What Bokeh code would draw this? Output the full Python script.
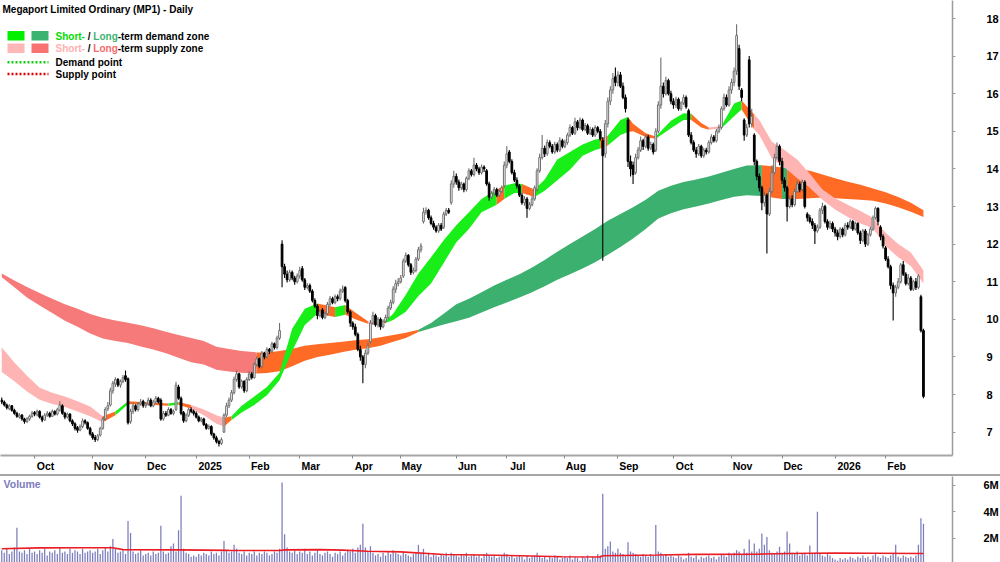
from bokeh.plotting import figure
from bokeh.models import (Range1d, FixedTicker, CustomJSTickFormatter, Label,
                          BoxAnnotation, PolyAnnotation, ColumnDataSource, Div)
from bokeh.layouts import column
from bokeh.embed import file_html
from bokeh.resources import INLINE

# ---------------- data (trading-day index 0 = mid Sep 2024) ----------------
month_names = ["Oct", "Nov", "Dec", "2025", "Feb", "Mar", "Apr", "May", "Jun",
               "Jul", "Aug", "Sep", "Oct", "Nov", "Dec", "2026", "Feb"]
month_start = [13, 36, 57, 77, 98, 118, 139, 158, 180, 200, 223, 244, 266, 289, 309, 330, 350]
price_ticks = [7, 8, 9, 10, 11, 12, 13, 14, 15, 16, 17, 18]
volume_ticks = [2, 4, 6]

opens = [
    7.85, 7.80, 7.72, 7.62, 7.70, 7.58, 7.50, 7.40, 7.45, 7.35, 7.28, 7.35, 7.42,
    7.52, 7.46, 7.55, 7.40, 7.32, 7.45, 7.50, 7.42, 7.55, 7.48, 7.58, 7.70, 7.50, 7.40, 7.48, 7.30, 7.22, 7.12, 7.05, 7.15, 7.30, 7.25, 7.10,
    6.95, 6.86, 6.80, 6.92, 7.10, 7.35, 7.62, 7.72, 8.10, 8.28, 8.40, 8.25, 8.35, 8.50, 8.42, 7.28, 7.55, 7.70, 7.60, 7.75, 7.82,
    7.70, 7.75, 7.85, 7.70, 7.80, 7.90, 7.85, 7.35, 7.50, 7.45, 7.60, 7.50, 7.60, 8.20, 7.90, 7.52, 7.30, 7.45, 7.60, 7.55,
    7.50, 7.40, 7.30, 7.35, 7.20, 7.10, 7.15, 6.95, 6.85, 6.75, 6.70, 7.00, 7.45, 7.70, 7.85, 8.05, 8.40, 8.55, 8.20, 8.35, 8.10,
    8.40, 8.55, 8.45, 8.80, 8.95, 8.75, 9.10, 9.00, 9.20, 9.15, 9.35, 9.25, 9.50, 12.00, 11.40, 11.20, 11.05, 11.25, 11.10, 11.00,
    11.15, 11.35, 11.05, 10.85, 10.90, 10.75, 10.50, 10.35, 10.10, 10.25, 10.05, 10.15, 10.40, 10.55, 10.45, 10.60, 10.55, 10.75, 10.85, 10.50, 10.20,
    9.90, 9.80, 9.60, 9.20, 9.00, 8.80, 9.10, 9.40, 9.90, 10.10, 9.85, 10.00, 9.80, 9.95, 10.05, 10.30, 10.45, 10.80, 10.95,
    11.00, 11.15, 11.55, 11.70, 11.45, 11.25, 11.30, 11.60, 11.85, 12.60, 12.85, 12.90, 12.70, 12.55, 12.45, 12.35, 12.50, 12.45, 12.80, 12.90, 13.10, 13.60,
    13.80, 13.65, 13.50, 13.60, 13.45, 13.75, 13.95, 13.85, 14.10, 14.00, 13.90, 14.05, 13.95, 13.60, 13.25, 13.35, 13.45, 13.30, 13.40, 13.55,
    14.10, 14.45, 14.20, 13.90, 13.70, 13.55, 13.30, 13.10, 13.20, 12.95, 13.05, 13.20, 13.45, 13.95, 14.30, 14.55, 14.40, 14.70, 14.60, 14.45, 14.65, 14.50, 14.75,
    14.60, 14.70, 14.90, 15.10, 14.95, 15.25, 15.10, 15.30, 15.05, 15.15, 14.95, 15.05, 14.90, 15.10, 15.00, 14.75, 14.40, 15.20, 15.80, 16.10, 16.45,
    16.30, 16.50, 16.20, 15.90, 15.30, 14.20, 14.10, 13.90, 14.30, 14.50, 14.75, 14.60, 14.85, 14.55, 14.65, 14.50, 15.00, 15.70, 16.20, 16.00, 16.35, 16.00,
    15.80, 15.70, 15.85, 15.60, 15.75, 15.90, 15.55, 14.90, 14.70, 14.50, 14.40, 14.60, 14.35, 14.50, 14.45, 14.70, 14.85, 14.75, 15.00, 15.10, 15.60, 15.90, 15.70,
    16.10, 16.30, 16.60, 17.20, 16.10, 15.30, 14.90, 16.90, 15.20, 14.90, 14.20, 13.80, 13.50, 13.10, 13.30, 12.80, 13.40, 13.90, 14.30, 14.60,
    14.20, 13.70, 13.50, 13.00, 13.20, 13.05, 13.40, 13.60, 13.45, 13.65, 12.80, 12.70, 12.60, 12.50, 12.35, 12.45, 12.90, 13.00, 12.60, 12.45, 12.55,
    12.40, 12.30, 12.20, 12.40, 12.25, 12.50, 12.45, 12.60, 12.40, 12.55, 12.30, 12.10, 12.35, 12.00, 12.25, 12.40, 12.70, 12.95, 12.45, 12.20,
    11.90, 11.60, 11.40, 10.90, 10.70, 10.85, 11.00, 11.45, 11.20, 10.95, 11.10, 10.80, 11.00, 10.85, 10.60, 9.70,
]
highs = [
    7.92, 7.84, 7.76, 7.74, 7.72, 7.62, 7.54, 7.50, 7.48, 7.38, 7.40, 7.46, 7.56,
    7.56, 7.60, 7.58, 7.44, 7.50, 7.56, 7.54, 7.60, 7.58, 7.65, 7.82, 7.74, 7.54, 7.52, 7.50, 7.34, 7.26, 7.16, 7.20, 7.36, 7.34, 7.28, 7.14,
    7.00, 6.92, 6.95, 7.14, 7.40, 7.66, 7.80, 8.18, 8.36, 8.46, 8.44, 8.40, 8.52, 8.64, 8.45, 7.62, 7.78, 7.74, 7.80, 7.88, 7.86,
    7.80, 7.92, 7.90, 7.86, 7.96, 7.94, 7.90, 7.56, 7.56, 7.66, 7.64, 7.60, 8.34, 8.26, 7.95, 7.56, 7.50, 7.65, 7.66, 7.60,
    7.55, 7.44, 7.40, 7.38, 7.24, 7.20, 7.18, 6.98, 6.90, 6.80, 6.86, 7.50, 7.78, 7.92, 8.12, 8.48, 8.64, 8.58, 8.40, 8.38, 8.46,
    8.62, 8.60, 8.86, 9.02, 8.98, 9.16, 9.14, 9.26, 9.24, 9.40, 9.38, 9.56, 9.90, 12.10, 11.48, 11.30, 11.32, 11.30, 11.16, 11.22,
    11.40, 11.42, 11.10, 10.96, 10.95, 10.80, 10.56, 10.40, 10.26, 10.30, 10.20, 10.46, 10.62, 10.60, 10.66, 10.66, 10.82, 10.90, 10.88, 10.55, 10.24,
    9.95, 9.88, 9.65, 9.30, 9.05, 9.20, 9.38, 9.98, 10.20, 10.15, 10.06, 10.05, 10.00, 10.12, 10.36, 10.52, 10.88, 11.05, 11.10,
    11.18, 11.62, 11.78, 11.74, 11.50, 11.38, 11.66, 11.92, 12.02, 12.97, 12.98, 12.94, 12.76, 12.62, 12.50, 12.56, 12.56, 12.86, 12.96, 12.96, 13.70, 13.95,
    13.88, 13.72, 13.66, 13.64, 13.80, 14.02, 14.00, 14.30, 14.16, 14.06, 14.12, 14.10, 14.00, 13.66, 13.42, 13.52, 13.50, 13.46, 13.56, 14.20,
    14.60, 14.50, 14.26, 13.98, 13.78, 13.60, 13.36, 13.28, 13.25, 13.12, 13.28, 13.56, 14.02, 14.40, 14.90, 14.62, 14.78, 14.76, 14.66, 14.72, 14.70, 14.84, 14.80,
    14.78, 14.96, 15.18, 15.14, 15.36, 15.30, 15.37, 15.34, 15.22, 15.20, 15.12, 15.10, 15.16, 15.14, 15.06, 14.85, 15.30, 15.90, 16.20, 16.55, 16.70,
    16.60, 16.58, 16.30, 15.98, 15.36, 14.36, 14.20, 14.40, 14.58, 14.86, 14.80, 14.92, 14.90, 14.72, 14.70, 15.08, 15.80, 16.96, 16.30, 16.45, 16.40, 16.08,
    15.88, 15.92, 15.90, 15.80, 15.98, 15.95, 15.60, 14.98, 14.76, 14.58, 14.66, 14.64, 14.56, 14.56, 14.76, 14.92, 14.90, 15.06, 15.18, 15.66, 16.00, 15.98, 16.20,
    16.40, 16.70, 17.85, 17.30, 16.15, 15.35, 15.20, 17.00, 15.60, 14.95, 14.25, 13.88, 13.55, 13.40, 13.35, 13.50, 14.10, 14.40, 14.70, 14.65,
    14.30, 13.78, 13.55, 13.28, 13.30, 13.48, 13.70, 13.66, 13.72, 13.70, 12.85, 12.78, 12.68, 12.56, 12.52, 12.96, 13.10, 13.05, 12.66, 12.62, 12.60,
    12.46, 12.38, 12.45, 12.44, 12.56, 12.58, 12.66, 12.64, 12.60, 12.58, 12.36, 12.40, 12.40, 12.30, 12.46, 12.76, 13.00, 12.98, 12.50, 12.26,
    11.95, 11.68, 11.45, 10.98, 10.92, 11.10, 11.50, 11.55, 11.25, 11.20, 11.15, 11.05, 11.10, 11.20, 10.65, 9.75,
]
lows = [
    7.74, 7.68, 7.60, 7.58, 7.54, 7.46, 7.38, 7.36, 7.30, 7.22, 7.24, 7.30, 7.38,
    7.42, 7.42, 7.36, 7.26, 7.30, 7.40, 7.38, 7.40, 7.44, 7.44, 7.54, 7.46, 7.34, 7.36, 7.26, 7.16, 7.04, 6.98, 7.02, 7.10, 7.20, 7.06, 6.90,
    6.80, 6.74, 6.76, 6.88, 7.06, 7.30, 7.56, 7.68, 8.02, 8.20, 8.20, 8.18, 8.30, 8.34, 7.20, 7.22, 7.48, 7.55, 7.55, 7.70, 7.65,
    7.64, 7.70, 7.66, 7.66, 7.76, 7.76, 7.30, 7.30, 7.40, 7.42, 7.46, 7.45, 7.56, 7.86, 7.45, 7.25, 7.26, 7.40, 7.50, 7.44,
    7.36, 7.26, 7.26, 7.16, 7.06, 7.06, 6.90, 6.80, 6.70, 6.62, 6.66, 6.98, 7.40, 7.64, 7.80, 8.00, 8.34, 8.15, 8.15, 8.05, 8.06,
    8.36, 8.40, 8.42, 8.74, 8.70, 8.70, 8.94, 8.96, 9.08, 9.10, 9.20, 9.20, 9.45, 10.85, 11.10, 10.98, 11.00, 11.04, 10.92, 10.95,
    11.08, 11.00, 10.78, 10.80, 10.70, 10.45, 10.30, 10.00, 10.05, 10.00, 10.00, 10.10, 10.35, 10.40, 10.40, 10.48, 10.50, 10.70, 10.45, 10.15, 9.80,
    9.72, 9.55, 9.15, 8.90, 8.30, 8.70, 9.05, 9.35, 9.85, 9.80, 9.78, 9.72, 9.76, 9.90, 10.00, 10.25, 10.40, 10.70, 10.88,
    10.95, 11.10, 11.50, 11.40, 11.18, 11.20, 11.25, 11.55, 11.78, 12.55, 12.78, 12.65, 12.50, 12.38, 12.30, 12.30, 12.35, 12.40, 12.75, 12.80, 13.05, 13.50,
    13.58, 13.42, 13.44, 13.38, 13.40, 13.70, 13.80, 13.80, 13.94, 13.84, 13.85, 13.92, 13.55, 13.15, 13.20, 13.30, 13.25, 13.25, 13.36, 13.50,
    14.02, 14.15, 13.85, 13.65, 13.48, 13.25, 13.05, 13.02, 12.70, 12.90, 13.00, 13.15, 13.40, 13.90, 14.25, 14.32, 14.35, 14.55, 14.40, 14.40, 14.44, 14.45, 14.55,
    14.55, 14.64, 14.85, 14.90, 14.90, 15.02, 15.05, 15.00, 15.00, 14.90, 14.90, 14.85, 14.85, 14.95, 14.75, 11.56, 14.30, 15.10, 15.70, 16.00, 16.20,
    16.20, 16.15, 15.85, 15.50, 14.05, 13.80, 13.60, 13.85, 14.25, 14.45, 14.50, 14.55, 14.48, 14.50, 14.38, 14.45, 14.95, 15.60, 15.90, 15.95, 15.95, 15.72,
    15.60, 15.62, 15.55, 15.55, 15.70, 15.60, 14.85, 14.65, 14.45, 14.30, 14.35, 14.30, 14.30, 14.38, 14.40, 14.65, 14.70, 14.70, 14.95, 15.05, 15.55, 15.65, 15.65,
    16.00, 16.20, 16.50, 16.10, 15.80, 14.75, 14.85, 15.10, 15.10, 14.10, 13.70, 13.40, 12.90, 13.00, 11.75, 12.75, 13.35, 13.85, 14.25, 14.10,
    13.60, 13.40, 12.60, 12.95, 12.98, 13.00, 13.35, 13.38, 13.40, 12.95, 12.60, 12.55, 12.40, 12.00, 12.30, 12.40, 12.80, 12.55, 12.38, 12.40, 12.32,
    12.20, 12.10, 12.15, 12.18, 12.20, 12.38, 12.40, 12.35, 12.36, 12.25, 12.00, 12.05, 11.92, 11.95, 12.20, 12.35, 12.65, 12.50, 12.10, 11.88,
    11.55, 11.35, 10.80, 9.97, 10.60, 10.80, 10.95, 11.15, 10.90, 10.90, 10.75, 10.75, 10.78, 10.80, 9.65, 7.90,
]
closes = [
    7.80, 7.72, 7.65, 7.70, 7.58, 7.50, 7.42, 7.45, 7.35, 7.28, 7.35, 7.42, 7.50,
    7.48, 7.55, 7.40, 7.32, 7.45, 7.50, 7.42, 7.55, 7.48, 7.60, 7.72, 7.50, 7.40, 7.48, 7.30, 7.22, 7.10, 7.05, 7.15, 7.30, 7.25, 7.10, 6.95,
    6.85, 6.80, 6.90, 7.10, 7.35, 7.60, 7.70, 8.10, 8.30, 8.40, 8.25, 8.35, 8.45, 8.40, 7.25, 7.55, 7.70, 7.60, 7.75, 7.80, 7.70,
    7.75, 7.85, 7.70, 7.80, 7.90, 7.80, 7.35, 7.50, 7.45, 7.60, 7.50, 7.55, 8.25, 7.90, 7.50, 7.30, 7.45, 7.60, 7.55, 7.50,
    7.40, 7.30, 7.35, 7.20, 7.10, 7.15, 6.95, 6.85, 6.75, 6.70, 6.80, 7.45, 7.70, 7.85, 8.05, 8.40, 8.55, 8.20, 8.35, 8.10, 8.40,
    8.55, 8.45, 8.80, 8.95, 8.75, 9.10, 9.00, 9.20, 9.15, 9.35, 9.25, 9.50, 9.70, 11.40, 11.20, 11.05, 11.25, 11.10, 11.00, 11.15,
    11.30, 11.05, 10.85, 10.90, 10.75, 10.50, 10.35, 10.10, 10.20, 10.05, 10.15, 10.40, 10.55, 10.45, 10.60, 10.55, 10.75, 10.80, 10.50, 10.20, 9.90,
    9.80, 9.60, 9.20, 9.00, 8.80, 9.10, 9.30, 9.90, 10.10, 9.85, 10.00, 9.80, 9.95, 10.05, 10.30, 10.45, 10.80, 10.95, 11.00,
    11.10, 11.55, 11.70, 11.45, 11.25, 11.30, 11.60, 11.85, 11.95, 12.85, 12.90, 12.70, 12.55, 12.45, 12.35, 12.50, 12.40, 12.80, 12.90, 12.85, 13.60, 13.80,
    13.65, 13.50, 13.60, 13.45, 13.75, 13.95, 13.85, 14.10, 14.00, 13.90, 14.05, 14.00, 13.60, 13.25, 13.35, 13.45, 13.30, 13.40, 13.50, 14.10,
    14.40, 14.20, 13.90, 13.70, 13.55, 13.30, 13.10, 13.20, 12.95, 13.05, 13.20, 13.50, 13.95, 14.30, 14.55, 14.40, 14.70, 14.60, 14.45, 14.65, 14.50, 14.75, 14.60,
    14.70, 14.90, 15.10, 14.95, 15.25, 15.10, 15.30, 15.05, 15.15, 14.95, 15.05, 14.90, 15.10, 15.00, 14.80, 14.35, 15.20, 15.80, 16.10, 16.40, 16.30,
    16.50, 16.20, 15.90, 15.60, 14.20, 14.00, 13.85, 14.30, 14.50, 14.75, 14.60, 14.85, 14.55, 14.65, 14.45, 15.00, 15.70, 16.20, 16.00, 16.35, 16.00, 15.80,
    15.70, 15.85, 15.60, 15.75, 15.90, 15.65, 14.90, 14.70, 14.50, 14.40, 14.60, 14.35, 14.50, 14.45, 14.70, 14.85, 14.75, 15.00, 15.10, 15.60, 15.90, 15.70, 16.10,
    16.30, 16.60, 17.55, 16.20, 15.90, 14.90, 15.10, 15.20, 15.40, 14.20, 13.80, 13.50, 13.10, 13.30, 12.80, 13.40, 13.90, 14.30, 14.60, 14.20,
    13.70, 13.50, 13.00, 13.20, 13.05, 13.40, 13.60, 13.45, 13.65, 13.00, 12.70, 12.60, 12.50, 12.35, 12.45, 12.90, 13.00, 12.60, 12.45, 12.55, 12.40,
    12.30, 12.20, 12.40, 12.25, 12.50, 12.45, 12.60, 12.40, 12.55, 12.30, 12.10, 12.35, 12.00, 12.25, 12.40, 12.70, 12.95, 12.60, 12.20, 11.95,
    11.60, 11.40, 10.90, 10.70, 10.85, 11.00, 11.45, 11.20, 10.95, 11.10, 10.80, 11.00, 10.85, 11.15, 9.70, 7.95,
]
volume_m = [
    1.1, 0.9, 1.2, 0.8, 1.0, 1.3, 2.8, 1.0, 0.9, 1.1, 0.8, 1.2, 0.9,
    1.0, 0.8, 1.1, 0.9, 1.2, 0.7, 1.0, 0.9, 1.1, 0.8, 1.3, 0.9, 1.0, 0.8, 1.2, 0.9, 1.1, 1.0, 0.8, 1.2, 0.9, 1.0, 1.1,
    0.9, 1.0, 1.2, 0.8, 1.1, 1.3, 1.0, 1.4, 1.95, 1.2, 0.9, 1.0, 1.1, 0.8, 3.3, 2.4, 1.0, 0.8, 0.9, 1.1, 0.7,
    0.8, 0.9, 0.7, 1.0, 0.8, 0.9, 2.95, 1.0, 0.8, 0.9, 1.4, 1.6, 1.0, 2.6, 5.2, 1.2, 0.9, 0.8, 0.6, 0.7,
    0.6, 0.8, 0.7, 0.9, 0.8, 0.7, 1.0, 0.8, 0.9, 0.7, 1.0, 1.8, 1.1, 0.9, 1.0, 1.5, 1.2, 0.9, 0.8, 1.0, 0.7,
    0.9, 0.8, 1.0, 0.7, 0.9, 0.8, 1.0, 0.9, 0.7, 0.8, 1.0, 0.9, 1.2, 6.2, 2.3, 1.3, 1.0, 0.9, 1.1, 0.8,
    1.0, 0.9, 1.2, 0.8, 1.0, 0.7, 0.9, 1.1, 0.8, 0.7, 0.9, 1.0, 0.8, 0.6, 0.9, 0.8, 1.0, 0.7, 0.9, 1.1, 1.0,
    1.2, 0.9, 1.3, 1.5, 3.1, 1.3, 1.0, 1.4, 0.9, 0.7, 0.8, 0.6, 0.9, 0.7, 1.0, 0.8, 1.1, 0.9, 0.8,
    0.7, 0.9, 0.8, 0.7, 0.6, 0.8, 0.9, 1.5, 0.8, 1.2, 0.7, 0.9, 0.6, 0.8, 0.7, 0.6, 0.8, 0.7, 0.9, 0.6, 0.9, 0.8,
    0.7, 0.6, 0.8, 0.7, 0.9, 0.6, 0.7, 0.8, 0.6, 0.7, 0.5, 0.8, 0.9, 0.7, 0.6, 0.7, 0.5, 0.6, 0.7, 0.9,
    0.8, 0.6, 0.7, 0.5, 0.6, 0.7, 0.6, 0.4, 0.7, 0.5, 0.6, 0.7, 0.9, 0.6, 0.5, 0.6, 0.4, 0.6, 0.5, 0.7, 0.6, 0.4, 0.5,
    0.6, 0.5, 0.7, 0.4, 0.6, 0.5, 0.3, 0.6, 0.5, 0.7, 0.4, 0.6, 0.5, 0.8, 0.7, 5.35, 1.2, 1.4, 1.75, 1.0, 0.9,
    1.2, 0.9, 0.8, 0.7, 1.7, 1.0, 0.9, 0.8, 0.7, 0.6, 0.8, 0.7, 0.6, 0.8, 0.7, 3.0, 1.0, 0.9, 0.7, 0.8, 0.6, 0.7,
    0.6, 0.5, 0.7, 0.6, 0.4, 0.5, 0.9, 0.6, 0.5, 0.7, 0.4, 0.6, 0.5, 0.6, 0.7, 0.5, 0.6, 0.4, 0.6, 0.8, 0.7, 0.6, 0.9,
    0.8, 0.9, 1.1, 1.0, 0.8, 1.2, 0.9, 1.9, 1.0, 1.6, 1.0, 1.2, 2.35, 1.5, 2.1, 1.1, 0.9, 0.8, 1.0, 1.35,
    0.9, 1.0, 2.5, 1.6, 0.9, 0.8, 1.0, 0.7, 0.8, 0.9, 0.7, 1.45, 0.8, 0.9, 4.0, 0.8, 0.7, 0.6, 0.8, 0.7, 0.5,
    0.4, 0.3, 0.5, 0.4, 0.5, 0.4, 0.6, 0.5, 0.4, 0.6, 0.5, 0.7, 0.5, 0.6, 0.4, 0.7, 0.8, 0.6, 0.5, 0.7,
    0.6, 0.5, 0.7, 0.8, 1.5, 0.6, 0.5, 0.7, 0.6, 0.5, 0.6, 0.5, 0.7, 1.5, 3.5, 3.1,
]
# volume moving average
vol_ma_idx = [0, 15, 30, 44, 48, 70, 90, 110, 112, 126, 135, 145, 158, 175, 190, 205, 222, 237, 238,
              260, 275, 300, 312, 330, 345, 365]
vol_ma = [1.20, 1.27, 1.28, 1.28, 1.14, 1.12, 1.08, 1.07, 1.12, 1.14, 1.10, 1.02, 0.97, 0.77, 0.73,
          0.68, 0.60, 0.58, 0.68, 0.73, 0.78, 0.80, 0.85, 0.88, 0.87, 0.85]

# long-term zone (sampled)
long_idx = [0, 5, 10, 15, 20, 25, 30, 35, 40, 45, 50, 55, 60, 65, 70, 75, 80, 85, 90, 95,
            101, 105, 110, 115, 120, 125, 130, 135, 140, 145, 150, 155, 160,
            165, 170, 175, 180, 185, 190, 195, 200, 205, 210, 215, 220, 225, 230, 235, 240, 245,
            250, 255, 260, 265, 270, 275, 280, 285, 290, 295,
            301, 305, 309, 311, 315, 320, 325, 330, 335, 340, 345, 350, 355, 360, 365]
long_top = [11.22, 11.03, 10.86, 10.70, 10.55, 10.40, 10.28, 10.14, 10.04, 9.97, 9.91, 9.84, 9.76, 9.67, 9.58, 9.50, 9.42, 9.27, 9.21, 9.16,
            9.12, 9.12, 9.16, 9.22, 9.30, 9.34, 9.37, 9.40, 9.44, 9.47, 9.52, 9.58, 9.64,
            9.72, 9.90, 10.15, 10.40, 10.55, 10.72, 10.90, 11.05, 11.20, 11.38, 11.58, 11.80, 12.00, 12.20, 12.40, 12.62, 12.80,
            12.98, 13.18, 13.42, 13.55, 13.65, 13.72, 13.80, 13.90, 14.00, 14.09,
            14.10, 14.07, 14.04, 14.03, 14.00, 13.95, 13.85, 13.75, 13.66, 13.58, 13.48, 13.38, 13.25, 13.10, 12.90]
long_bot = [11.12, 10.85, 10.58, 10.37, 10.17, 9.96, 9.80, 9.62, 9.49, 9.42, 9.37, 9.28, 9.20, 9.10, 8.98, 8.86, 8.80, 8.66, 8.61, 8.58,
            8.56, 8.57, 8.62, 8.75, 8.90, 9.00, 9.06, 9.13, 9.19, 9.23, 9.30, 9.40, 9.50,
            9.66, 9.76, 9.86, 9.95, 10.04, 10.18, 10.32, 10.45, 10.58, 10.72, 10.88, 11.05, 11.20, 11.35, 11.52, 11.72, 11.92,
            12.15, 12.40, 12.68, 12.82, 12.93, 13.00, 13.08, 13.17, 13.26, 13.30,
            13.28, 13.24, 13.20, 13.20, 13.20, 13.22, 13.24, 13.22, 13.20, 13.18, 13.15, 13.08, 12.98, 12.86, 12.72]
long_zone = (["supply"] * 20 + ["neutral"] * 13 + ["demand"] * 27 + ["neutral"] * 2 +
             ["demand"] + ["neutral"] * 12)

# short-term zone (sampled)
short_idx = [0, 5, 10, 15, 20, 25, 30, 35, 40, 45, 50, 55, 60, 66, 70, 75, 80, 85, 88, 91,
             95, 100, 105, 110, 115, 120, 125, 132, 136, 140, 145, 148, 152, 155, 160, 165, 170, 175, 180, 185,
             190, 196, 199, 203, 206, 211, 215, 220, 225, 230, 235, 237, 240, 245, 248, 250, 255, 259, 265, 270,
             273, 277, 280, 285, 290, 293, 298, 300, 305, 310, 315, 320, 325, 330, 335, 340, 345, 350, 355, 360, 365]
short_top = [9.25, 8.85, 8.50, 8.18, 8.05, 7.95, 7.82, 7.68, 7.42, 7.55, 7.82, 7.80, 7.78, 7.76, 7.80, 7.72, 7.60, 7.45, 7.38, 7.42,
             7.70, 7.95, 8.20, 8.58, 9.75, 10.28, 10.42, 10.32, 10.38, 10.18, 9.95, 9.92, 9.96, 10.15, 10.65, 11.22, 11.65, 12.10, 12.50, 12.85,
             13.20, 13.45, 13.55, 13.62, 13.60, 13.45, 13.72, 14.25, 14.45, 14.65, 14.78, 14.80, 14.88, 15.30, 15.38, 15.20, 14.95, 14.86, 15.28, 15.48,
             15.47, 15.22, 15.10, 15.14, 15.74, 15.82, 15.45, 15.30, 14.72, 14.50, 14.25, 13.87, 13.45, 13.22, 13.05, 12.88, 12.70, 12.30, 12.00, 11.78, 11.30]
short_bot = [8.60, 8.35, 8.08, 7.86, 7.75, 7.67, 7.55, 7.42, 7.26, 7.45, 7.74, 7.74, 7.72, 7.70, 7.73, 7.62, 7.45, 7.22, 7.15, 7.32,
             7.52, 7.72, 7.98, 8.38, 9.15, 9.85, 10.15, 10.06, 10.12, 10.00, 9.88, 9.86, 9.90, 9.98, 10.20, 10.62, 10.95, 11.50, 12.05, 12.40,
             12.85, 13.05, 13.20, 13.36, 13.36, 13.25, 13.42, 13.70, 13.98, 14.35, 14.50, 14.54, 14.62, 14.90, 14.98, 15.00, 14.85, 14.80, 15.08, 15.30,
             15.30, 15.10, 15.04, 15.08, 15.40, 15.58, 15.05, 14.90, 14.28, 14.04, 13.75, 13.50, 13.18, 12.92, 12.72, 12.55, 12.42, 11.95, 11.65, 11.42, 10.95]
short_zone = (["supply"] * 8 +
              ["neutral", "demand", "neutral", "neutral", "neutral", "demand", "neutral", "supply", "supply", "supply",
               "neutral", "demand", "demand", "demand", "demand", "demand", "demand", "demand", "neutral", "demand",
               "neutral", "neutral", "supply", "neutral", "demand", "demand", "demand", "demand", "demand", "demand",
               "demand", "demand", "demand", "neutral", "demand", "demand", "neutral", "demand", "demand", "demand",
               "demand", "demand", "demand", "neutral", "demand", "demand", "neutral", "neutral", "neutral", "demand",
               "demand", "demand", "neutral", "neutral", "supply", "demand", "demand", "neutral"] +
              ["supply"] * 15)

n = len(closes)
for nm, arr in [("opens", opens), ("highs", highs), ("lows", lows), ("volume", volume_m)]:
    assert len(arr) == n, (nm, len(arr), n)
assert len(long_idx) == len(long_top) == len(long_bot) == len(long_zone), (len(long_idx), len(long_top), len(long_bot), len(long_zone))
assert len(short_idx) == len(short_top) == len(short_bot) == len(short_zone), (len(short_idx), len(short_top), len(short_bot), len(short_zone))

# ---------------- styling ----------------
FONT = "Liberation Sans"
SHORT_COL = {"supply": "#ffb4b4", "neutral": "#ff6a24", "demand": "#18ee18"}
LONG_COL = {"supply": "#f77a7a", "neutral": "#ff6a24", "demand": "#3cb06e"}
AXIS_GREY = "#9c9c9c"

x_range = Range1d(-0.5, 376.5)

p = figure(frame_width=952, frame_height=455, x_range=x_range, y_range=Range1d(6.378, 18.479),
           y_axis_location="right", x_axis_location="below", output_backend="svg",
           toolbar_location=None, min_border_left=0, min_border_top=0, min_border_right=48,
           min_border_bottom=0)
p.grid.visible = False
p.outline_line_color = None
p.background_fill_color = "white"
p.border_fill_color = "white"

# price axis
ya = p.yaxis[0]
ya.ticker = FixedTicker(ticks=price_ticks)
ya.axis_line_color = AXIS_GREY
ya.axis_line_width = 1.5
ya.major_tick_out = 3
ya.major_tick_in = 0
ya.major_tick_line_color = AXIS_GREY
ya.minor_tick_line_color = None
ya.major_label_standoff = 31
ya.major_label_text_font = FONT
ya.major_label_text_font_style = "bold"
ya.major_label_text_font_size = "11px"
ya.major_label_text_color = "black"

# month axis
label_pos = [round(s + (2 + 3.0 * len(nm)) / 2.525, 2) for s, nm in zip(month_start, month_names)]
xa = p.xaxis[0]
xa.ticker = FixedTicker(ticks=label_pos, minor_ticks=month_start)
xa.formatter = CustomJSTickFormatter(
    args=dict(keys=[int(round(v * 100)) for v in label_pos], names=month_names),
    code="const k = Math.round(tick*100); const i = keys.indexOf(k); return i >= 0 ? names[i] : '';")
xa.axis_line_color = "#a6a6a6"
xa.axis_line_width = 2
xa.major_tick_line_color = None
xa.major_tick_out = 0
xa.major_tick_in = 0
xa.minor_tick_line_color = "#8a8a8a"
xa.minor_tick_out = 3
xa.minor_tick_in = 0
xa.major_label_standoff = 1
xa.major_label_text_font = FONT
xa.major_label_text_font_style = "bold"
xa.major_label_text_font_size = "10.5px"
xa.major_label_text_color = "black"


def draw_band(fig, idx, top, bot, zone, colors):
    m = len(idx)
    k = 0
    while k < m - 1:
        s = zone[k]
        j = k
        while j + 1 < m - 1 and zone[j + 1] == s:
            j += 1
        fig.varea(x=idx[k:j + 2], y1=bot[k:j + 2], y2=top[k:j + 2],
                  fill_color=colors[s], fill_alpha=1.0)
        k = j + 1


draw_band(p, long_idx, long_top, long_bot, long_zone, LONG_COL)
draw_band(p, short_idx, short_top, short_bot, short_zone, SHORT_COL)

# candles
xs = list(range(n))
up = [c >= o for o, c in zip(opens, closes)]
src = ColumnDataSource(dict(
    x=xs,
    top=[max(o, c) for o, c in zip(opens, closes)],
    bottom=[min(o, c) for o, c in zip(opens, closes)],
    hi=[max(h, o, c) for h, o, c in zip(highs, opens, closes)],
    lo=[min(l, o, c) for l, o, c in zip(lows, opens, closes)],
    fill=["white" if u else "black" for u in up],
    line=["#6e6e6e" if u else "black" for u in up],
))
p.segment(x0="x", y0="lo", x1="x", y1="hi", line_color="line", line_width=1.1, source=src)
p.vbar(x="x", width=0.68, top="top", bottom="bottom", fill_color="fill",
       line_color="line", line_width=1.0, source=src)

# title and legend (screen units from frame bottom-left)
H = 455


def lab(x, ycanvas, text, color="black", size="10px"):
    p.add_layout(Label(x=x, y=H - ycanvas, x_units="screen", y_units="screen", text=text,
                       text_font=FONT, text_font_style="bold", text_font_size=size,
                       text_color=color, text_baseline="middle", text_align="left"))


lab(2, 8.5, "Megaport Limited Ordinary (MP1) - Daily")
for (x0, x1, c, yt, yb) in [(7, 24, "#00f000", 30.5, 40), (31, 48, "#3cb371", 30.5, 40),
                            (7, 24, "#ffb6b6", 43, 52.5), (31, 48, "#f87272", 43, 52.5)]:
    p.add_layout(BoxAnnotation(left=x0, right=x1, top=H - yt, bottom=H - yb,
                               left_units="screen", right_units="screen",
                               top_units="screen", bottom_units="screen",
                               fill_color=c, fill_alpha=1.0, line_color=None))
lab(55, 35.5, "Short-", "#00dd00")
lab(87.2, 35.5, "/")
lab(92.8, 35.5, "Long", "#3cb371")
lab(117.2, 35.5, "-term demand zone")
lab(55, 48, "Short-", "#ffb0b0")
lab(87.2, 48, "/")
lab(92.8, 48, "Long", "#f86a6a")
lab(117.2, 48, "-term supply zone")
lab(55, 61.5, "Demand point")
lab(55, 74, "Supply point")
for yc, c in [(61.7, "#11cc11"), (73.5, "#dd0000")]:
    p.add_layout(PolyAnnotation(xs=[7, 48], ys=[H - yc, H - yc], xs_units="screen", ys_units="screen",
                                line_color=c, line_alpha=1.0, line_width=2.5, line_dash="2 2",
                                fill_color=None, fill_alpha=0))

# separator line across the full width
sep = Div(text="", width=1000, height=2, margin=(0, 0, 0, 0),
          styles={"background-color": "#a6a6a6"})

# ---------------- volume panel ----------------
v = figure(frame_width=952, frame_height=91, x_range=x_range, y_range=Range1d(-0.21, 6.66),
           y_axis_location="right", x_axis_location=None, output_backend="svg",
           toolbar_location=None, min_border_left=0, min_border_top=0, min_border_right=48,
           min_border_bottom=0)
v.grid.visible = False
v.outline_line_color = None
va = v.yaxis[0]
va.ticker = FixedTicker(ticks=volume_ticks)
va.formatter = CustomJSTickFormatter(code="return tick + 'M';")
va.axis_line_color = AXIS_GREY
va.axis_line_width = 1.5
va.major_tick_out = 3
va.major_tick_in = 0
va.major_tick_line_color = AXIS_GREY
va.minor_tick_line_color = None
va.major_label_standoff = 28
va.major_label_text_font = FONT
va.major_label_text_font_style = "bold"
va.major_label_text_font_size = "11px"
va.major_label_text_color = "black"

v.vbar(x=xs, top=volume_m, bottom=0, width=0.5, fill_color="#7d7dbd", line_color=None)
v.line(vol_ma_idx, vol_ma, line_color="#ec1c24", line_width=1.6)
v.add_layout(Label(x=3, y=84, x_units="screen", y_units="screen", text="Volume",
                   text_font=FONT, text_font_style="bold", text_font_size="10.5px",
                   text_color="#7c7cc0", text_baseline="middle", text_align="left"))

layout = column(p, sep, v, spacing=0)
open("out.html", "w").write(file_html(layout, INLINE))
